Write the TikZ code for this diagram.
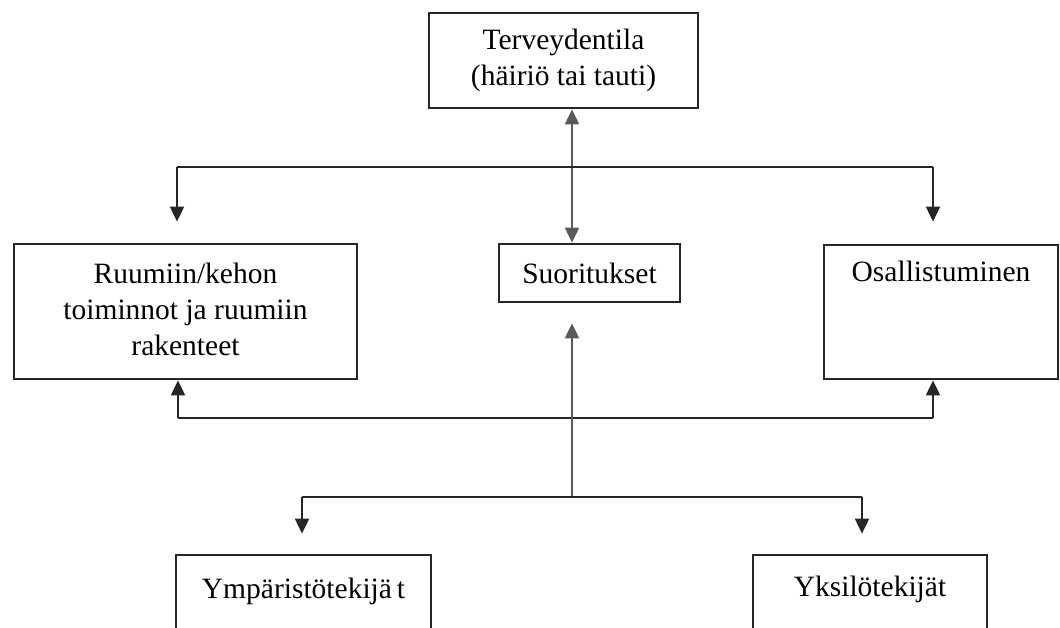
\documentclass[tikz,border=0pt]{standalone}
\usepackage{fontspec}
\setmainfont{Liberation Serif}
\usetikzlibrary{arrows.meta}
\begin{document}
\begin{tikzpicture}[x=1pt,y=-1pt,
  box/.style={draw=black!85, line width=2.8pt, rectangle, inner sep=0pt, align=center,
    font=\fontsize{29.5}{36}\selectfont},
  lbl/.style={inner sep=0pt, anchor=base, font=\fontsize{29.5}{36}\selectfont},
  conn/.style={draw=black!85, line width=2pt},
  vline/.style={draw=black!65, line width=2pt},
  arr/.style={-{Triangle[width=14pt,length=15pt]}},
  arrs/.style={{Triangle[width=14pt,length=15pt]}-{Triangle[width=14pt,length=15pt]}}]
\useasboundingbox (0,0) rectangle (1060,628);
\clip (0,0) rectangle (1060,628);
\fill[white] (0,0) rectangle (1060,628);
% boxes
\node[box, minimum width=269pt, minimum height=95pt] (top) at (563.5,60.5) {Terveydentila\\(häiriö tai tauti)};
\node[box, minimum width=343pt, minimum height=135pt] (left) at (185.5,311.5) {};
\node[lbl, anchor=center, align=center] (lefttext) at (185.5,309) {Ruumiin/kehon\\toiminnot ja ruumiin\\rakenteet};
\node[box, minimum width=181pt, minimum height=58pt] (suor) at (589.5,273) {Suoritukset};
\node[box, minimum width=234pt, minimum height=134pt] (osal) at (941,312) {};
\node[lbl] (osaltext) at (941,282) {Osallistuminen};
\node[box, minimum width=255pt, minimum height=140pt] (ymp) at (303.5,625) {};
\node[lbl] (ymptext) at (303.5,598) {Ympäristötekijä\,t};
\node[box, minimum width=234pt, minimum height=140pt] (yks) at (870,625) {};
\node[lbl] (ykstext) at (870,596) {Yksilötekijät};
% coordinates
\coordinate (cx) at (572,0);
\coordinate (tl) at (177,167);
\coordinate (tr) at (933,167);
\coordinate (ml) at (178,418);
\coordinate (mr) at (933,418);
\coordinate (bc) at (572,497);
\coordinate (bl) at (302,497);
\coordinate (br) at (862,497);
% top connectors
\draw[vline, arrs] (top.south -| cx) -- (suor.north -| cx);
\draw[conn] (tl) -- (tr);
\draw[conn, arr, shorten >=21pt] (tl) -- (tl |- left.north);
\draw[conn, arr, shorten >=22pt] (tr) -- (tr |- osal.north);
% middle connectors
\draw[conn] (ml) -- (mr);
\draw[conn, arr] (ml) -- (ml |- left.south);
\draw[conn, arr] (mr) -- (mr |- osal.south);
\draw[vline, arr, shorten >=20pt] (bc) -- (bc |- suor.south);
% bottom connectors
\draw[conn] (bl) -- (br);
\draw[conn, arr, shorten >=20pt] (bl) -- (bl |- ymp.north);
\draw[conn, arr, shorten >=20pt] (br) -- (br |- yks.north);
\end{tikzpicture}
\end{document}
